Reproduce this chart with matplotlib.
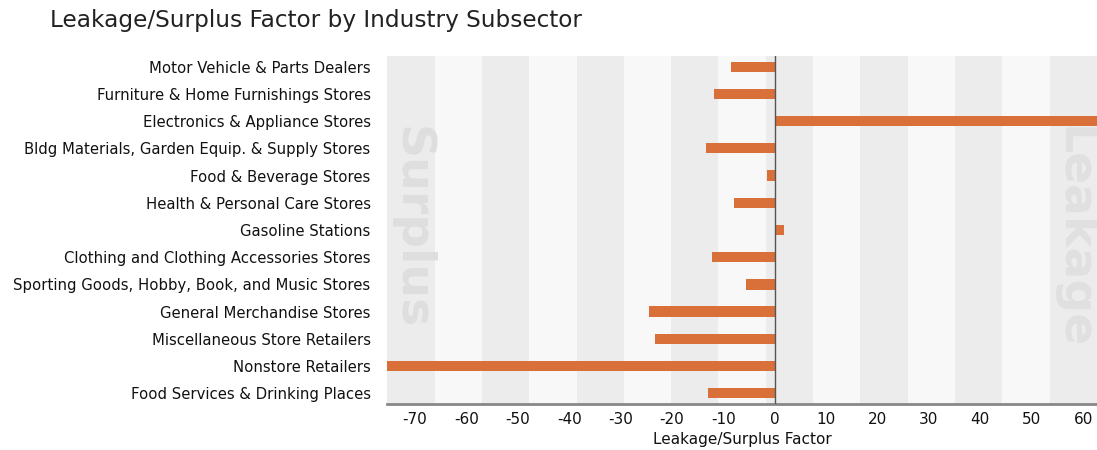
import matplotlib
matplotlib.use("Agg")
import matplotlib.pyplot as plt
from matplotlib.patches import Rectangle

categories = [
    "Motor Vehicle & Parts Dealers",
    "Furniture & Home Furnishings Stores",
    "Electronics & Appliance Stores",
    "Bldg Materials, Garden Equip. & Supply Stores",
    "Food & Beverage Stores",
    "Health & Personal Care Stores",
    "Gasoline Stations",
    "Clothing and Clothing Accessories Stores",
    "Sporting Goods, Hobby, Book, and Music Stores",
    "General Merchandise Stores",
    "Miscellaneous Store Retailers",
    "Nonstore Retailers",
    "Food Services & Drinking Places",
]
factor = [-8.6, -11.9, 70.0, -13.4, -1.6, -7.9, 1.8, -12.3, -5.6, -24.5, -23.3, -80.0, -13.0]
x_ticks = [-70, -60, -50, -40, -30, -20, -10, 0, 10, 20, 30, 40, 50, 60]

plt.rcParams["font.family"] = ["DejaVu Sans"]

fig = plt.figure(figsize=(10.97, 4.5), dpi=100)
ax = fig.add_axes([0.353, 0.102, 0.647, 0.774])

xmin, xmax = -75.4, 62.7
ax.set_xlim(xmin, xmax)
ax.set_ylim(len(categories) - 0.6, -0.4)

# alternating vertical background bands
n_bands = 15
for i in range(n_bands):
    ax.add_patch(Rectangle((i / n_bands, 0), 1 / n_bands, 1,
                           transform=ax.transAxes,
                           facecolor="#ececec" if i % 2 == 0 else "#f8f8f8",
                           edgecolor="none", zorder=0))

# faint side labels
ax.text(0.034, 0.506, "Surplus", transform=ax.transAxes, rotation=-90,
        ha="center", va="center", fontsize=34, fontweight="bold",
        color="#dedede", zorder=1)
ax.text(0.966, 0.477, "Leakage", transform=ax.transAxes, rotation=-90,
        ha="center", va="center", fontsize=34, fontweight="bold",
        color="#e0e0e0", zorder=1)

ypos = list(range(len(categories)))
ax.barh(ypos, factor, height=0.38, color="#d9703a", zorder=3)
ax.axvline(0, color="#555555", linewidth=1.0, zorder=4)

ax.set_yticks(ypos)
ax.set_yticklabels(categories, fontsize=10.7, color="#111111")
ax.set_xticks(x_ticks)
ax.set_xticklabels([str(v) for v in x_ticks], fontsize=11, color="#111111")
ax.tick_params(axis="both", length=0)
ax.tick_params(axis="y", pad=12)
ax.tick_params(axis="x", pad=6)

for s in ["top", "right", "left"]:
    ax.spines[s].set_visible(False)
ax.spines["bottom"].set_color("#888888")
ax.spines["bottom"].set_linewidth(2)

ax.set_xlabel("Leakage/Surplus Factor", fontsize=11, color="#111111", labelpad=3)

fig.text(0.046, 0.955, "Leakage/Surplus Factor by Industry Subsector",
         fontsize=16.7, color="#222222", ha="left", va="center")

fig.savefig("out.png", dpi=100, facecolor="white")
